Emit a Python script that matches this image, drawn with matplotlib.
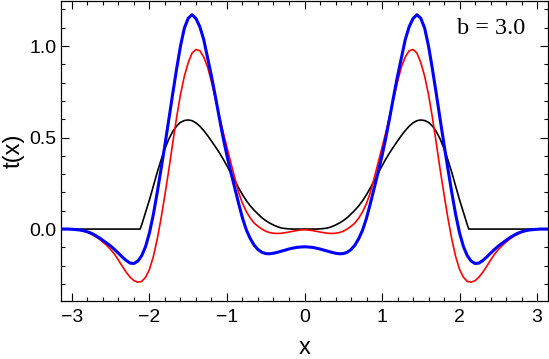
import numpy as np
import matplotlib
matplotlib.use("Agg")
import matplotlib.pyplot as plt
from matplotlib.ticker import MultipleLocator, FormatStrFormatter

# sample positions for red and blue curves (-3.15 .. 3.15, step 0.05)
x = np.round(np.linspace(-3.15, 3.15, 127), 2)

blue = [
    0.000, 0.000, 0.000, -0.001, -0.003, -0.005, -0.009, -0.015, -0.023, -0.034,
    -0.047, -0.062, -0.077, -0.093, -0.112, -0.132, -0.153, -0.172, -0.186, -0.188,
    -0.175, -0.145, -0.095, -0.020, 0.080, 0.200, 0.330, 0.462, 0.600, 0.740,
    0.875, 1.000, 1.098, 1.152, 1.171, 1.150, 1.105, 1.035, 0.935, 0.835,
    0.725, 0.610, 0.500, 0.400, 0.310, 0.225, 0.140, 0.060, -0.005, -0.052,
    -0.088, -0.112, -0.127, -0.134, -0.135, -0.132, -0.127, -0.121, -0.115, -0.109,
    -0.104, -0.100, -0.098,
    -0.097,
    -0.098, -0.100, -0.104, -0.109, -0.115, -0.121, -0.127, -0.132, -0.135,
    -0.134, -0.127, -0.112, -0.088, -0.052, -0.005, 0.060, 0.140, 0.225, 0.310,
    0.400, 0.500, 0.610, 0.725, 0.835, 0.935, 1.035, 1.105, 1.150, 1.171,
    1.152, 1.098, 1.000, 0.875, 0.740, 0.600, 0.462, 0.330, 0.200, 0.080,
    -0.020, -0.095, -0.145, -0.175, -0.188, -0.186, -0.172, -0.153, -0.132, -0.112,
    -0.093, -0.077, -0.062, -0.047, -0.034, -0.023, -0.015, -0.009, -0.005, -0.003,
    -0.001, 0.000, 0.000, 0.000,
]

red = [
    0.000, 0.000, 0.000, -0.001, -0.003, -0.006, -0.011, -0.018, -0.028, -0.040,
    -0.054, -0.071, -0.090, -0.112, -0.138, -0.170, -0.204, -0.236, -0.263, -0.282,
    -0.290, -0.286, -0.263, -0.220, -0.150, -0.055, 0.060, 0.190, 0.325, 0.470,
    0.610, 0.735, 0.835, 0.910, 0.962, 0.981, 0.974, 0.940, 0.885, 0.805,
    0.712, 0.620, 0.530, 0.445, 0.362, 0.280, 0.200, 0.140, 0.095, 0.060,
    0.033, 0.015, 0.000, -0.012, -0.019, -0.023, -0.024, -0.023, -0.020, -0.016,
    -0.012, -0.008, -0.005,
    -0.004,
    -0.005, -0.008, -0.012, -0.016, -0.020, -0.023, -0.024, -0.023, -0.019,
    -0.012, 0.000, 0.015, 0.033, 0.060, 0.095, 0.140, 0.200, 0.280, 0.362,
    0.445, 0.530, 0.620, 0.712, 0.805, 0.885, 0.940, 0.974, 0.981, 0.962,
    0.910, 0.835, 0.735, 0.610, 0.470, 0.325, 0.190, 0.060, -0.055, -0.150,
    -0.220, -0.263, -0.286, -0.290, -0.282, -0.263, -0.236, -0.204, -0.170, -0.138,
    -0.112, -0.090, -0.071, -0.054, -0.040, -0.028, -0.018, -0.011, -0.006, -0.003,
    -0.001, 0.000, 0.000, 0.000,
]

# black curve: zero outside |x| > 2.12
x_black = np.concatenate([[-3.15, -2.12], np.round(np.linspace(-2.10, 2.10, 85), 2), [2.12, 3.15]])
black = [
    0.000, 0.000,
    0.024, 0.092, 0.160, 0.235, 0.310, 0.378, 0.440, 0.492, 0.533, 0.563,
    0.583, 0.593, 0.596, 0.592, 0.580, 0.562, 0.538, 0.511, 0.481, 0.450,
    0.418, 0.383, 0.345, 0.305, 0.265, 0.225, 0.188, 0.155, 0.127, 0.103,
    0.082, 0.062, 0.046, 0.033, 0.022, 0.013, 0.006, 0.003, 0.001, 0.000,
    0.000, 0.000,
    0.000,
    0.000, 0.000, 0.000, 0.001, 0.003, 0.006, 0.013, 0.022, 0.033,
    0.046, 0.062, 0.082, 0.103, 0.127, 0.155, 0.188, 0.225, 0.265, 0.305,
    0.345, 0.383, 0.418, 0.450, 0.481, 0.511, 0.538, 0.562, 0.580, 0.592,
    0.596, 0.593, 0.583, 0.563, 0.533, 0.492, 0.440, 0.378, 0.310, 0.235,
    0.160, 0.092, 0.024,
    0.000, 0.000,
]

annotation = "b = 3.0"
xlabel = "x"
ylabel = "t(x)"

plt.rcParams['font.family'] = ['Liberation Sans', 'DejaVu Sans']

W, H = 549, 359
fig = plt.figure(figsize=(W / 100, H / 100), dpi=100)
ax = fig.add_axes([61 / W, 58 / H, 487 / W, 300 / H])

ax.plot(x_black, black, color='black', lw=1.2, zorder=2)
ax.plot(x, red, color=(1, 0, 0), lw=1.2, zorder=3)
ax.plot(x, blue, color=(0, 0, 1), lw=2.2, zorder=4)

ax.set_xlim(-np.pi, np.pi)
ax.set_ylim(-0.393, 1.246)

ax.xaxis.set_major_locator(MultipleLocator(1))
ax.xaxis.set_minor_locator(MultipleLocator(0.2))
ax.yaxis.set_major_locator(MultipleLocator(0.5))
ax.yaxis.set_minor_locator(MultipleLocator(0.1))
ax.yaxis.set_major_formatter(FormatStrFormatter('%.1f'))

ax.tick_params(which='both', direction='in', top=True, right=True, width=0.8, colors='black')
ax.tick_params(which='major', length=5.5, labelsize=14)
ax.tick_params(axis='x', which='major', pad=6)
ax.tick_params(axis='y', which='major', pad=3)
ax.tick_params(which='minor', length=3.0)
for s in ax.spines.values():
    s.set_linewidth(0.9)

ax.set_xlabel(xlabel, fontsize=17, labelpad=8)
ax.set_ylabel(ylabel, fontsize=17, labelpad=4)

fig.text(456.7 / W, 1 - 34.3 / H, annotation, family='Liberation Serif', fontsize=17.5,
         ha='left', va='baseline', color='black')

fig.savefig("out.png", dpi=100)
